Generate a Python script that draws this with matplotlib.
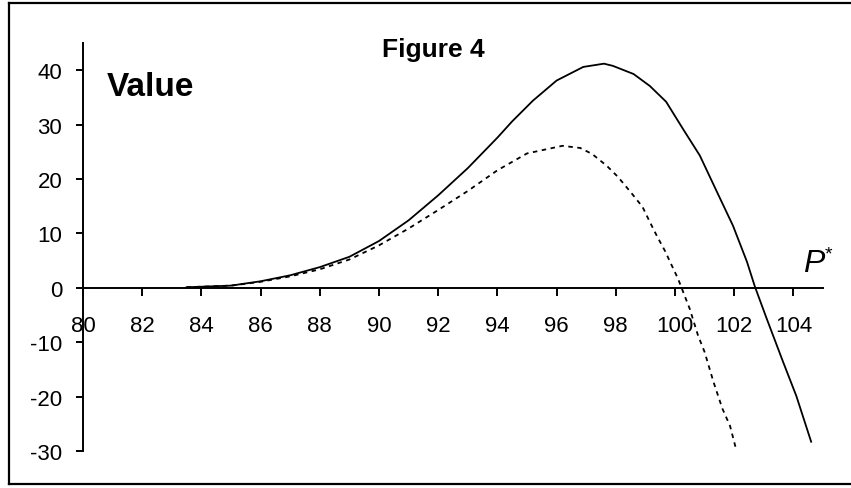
import matplotlib
matplotlib.use("Agg")
import matplotlib.pyplot as plt
from matplotlib.lines import Line2D

plt.rcParams['font.family'] = ['Liberation Sans', 'DejaVu Sans']
plt.rcParams['axes.unicode_minus'] = False

# solid curve
solid_x = [83.5, 84, 85, 86, 87, 88, 89, 90, 91, 92, 93, 94, 94.5, 95.2, 96,
           96.9, 97.6, 97.9, 98.6, 99.15, 99.7, 100.27, 100.84, 101.42, 101.96,
           102.43, 102.7, 103.1, 103.65, 104.1, 104.6]
solid_y = [0.1, 0.2, 0.4, 1.2, 2.3, 3.8, 5.7, 8.6, 12.4, 17.0, 22.0, 27.6, 30.6,
           34.4, 38.1, 40.6, 41.2, 40.8, 39.3, 37.1, 34.2, 29.2, 24.3, 17.6,
           11.4, 4.8, 0.2, -5.7, -13.6, -19.9, -28.3]

# dashed curve
dash_x = [83.5, 84, 85, 86, 87, 88, 89, 90, 91, 92, 93, 94, 95, 96.2, 96.8,
          97.2, 97.7, 98.07, 98.5, 98.9, 99.15, 99.4, 99.66, 99.9, 100.1, 100.5,
          100.78, 101.0, 101.3, 101.6, 101.86, 102.06]
dash_y = [0.1, 0.2, 0.4, 1.1, 2.1, 3.4, 5.2, 7.8, 10.9, 14.3, 17.8, 21.6, 24.7,
          26.1, 25.7, 24.6, 22.4, 20.4, 17.6, 14.9, 12.1, 9.4, 6.8, 4.0, 1.7,
          -3.9, -8.8, -11.8, -17.3, -22.2, -25.4, -29.6]

x_ticks = list(range(80, 105, 2))
y_ticks = list(range(-30, 41, 10))

W, H = 851, 489
fig = plt.figure(figsize=(W / 100, H / 100), dpi=100)
ax = fig.add_axes([83 / W, 1 - 452 / H, (823 - 83) / W, (452 - 44) / H])

ax.plot(solid_x, solid_y, color='black', lw=1.3)
ax.plot(dash_x, dash_y, color='black', lw=1.3, dashes=(2.5, 2.5))

ax.set_xlim(80, 105)
ax.set_ylim(-30, 45)
ax.spines['left'].set_position(('data', 80))
ax.spines['bottom'].set_position(('data', 0))
ax.spines['top'].set_visible(False)
ax.spines['right'].set_visible(False)
for s in ('left', 'bottom'):
    ax.spines[s].set_linewidth(1.4)

ax.set_xticks(x_ticks)
ax.set_yticks(y_ticks)
ax.tick_params(axis='x', direction='out', length=5.5, width=1.4, pad=14, labelsize=16)
ax.tick_params(axis='y', direction='out', length=5, width=1.4, pad=10, labelsize=16)
ax.patch.set_alpha(0)

fig.text(433.5 / W, 1 - 57 / H, 'Figure 4', ha='center', va='baseline',
         fontsize=19, fontweight='bold')
fig.text(107 / W, 1 - 96 / H, 'Value', ha='left', va='baseline',
         fontsize=24, fontweight='bold')
fig.text(803 / W, 1 - 272 / H, 'P', ha='left', va='baseline',
         fontsize=23, style='italic')
fig.text(825 / W, 1 - 259 / H, '*', ha='left', va='baseline',
         fontsize=14)

# frame around the chart (open on the right)
y_top, y_bot, x_left = 1 - 4 / H, 1 - 485 / H, 9 / W
for xs, ys in [([x_left, 1.01], [y_top, y_top]),
               ([x_left, 1.01], [y_bot, y_bot]),
               ([x_left, x_left], [y_bot, y_top])]:
    fig.add_artist(Line2D(xs, ys, color='black', lw=1.6, transform=fig.transFigure))

fig.savefig('out.png', dpi=100)
